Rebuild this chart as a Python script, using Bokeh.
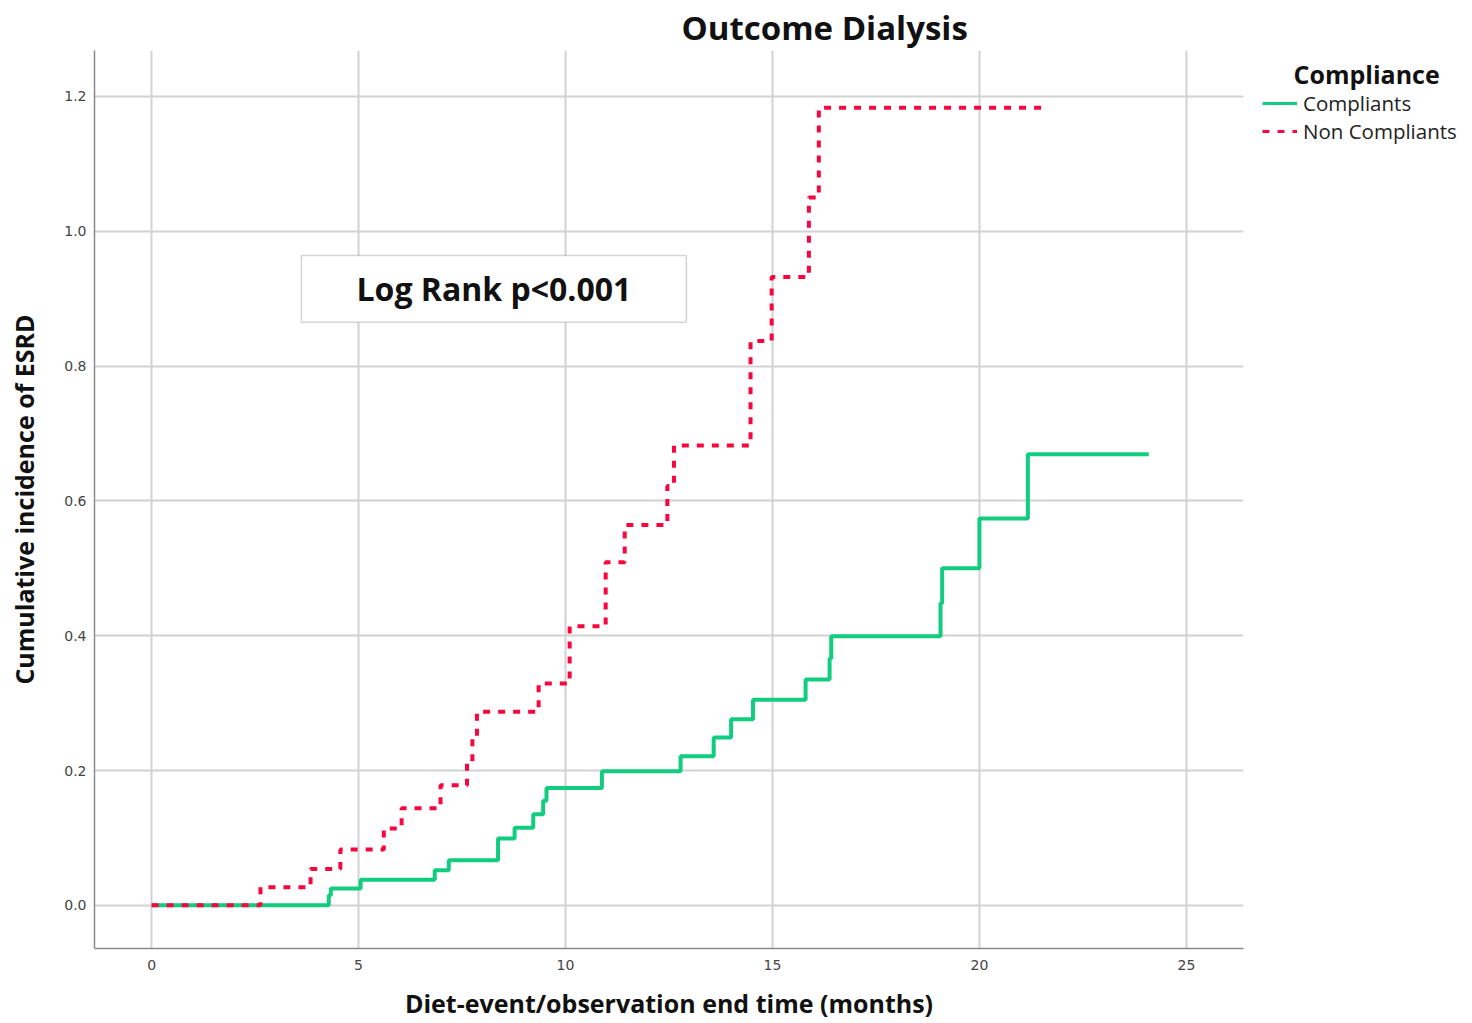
from bokeh.plotting import figure
from bokeh.layouts import row
from bokeh.models import Range1d, Legend, LegendItem, BoxAnnotation, Label, FixedTicker, CustomJSTickFormatter
from bokeh.embed import file_html
from bokeh.resources import INLINE

# ---- data ----
compliant_t = [0, 4.28, 4.33, 5.05, 6.84, 7.18, 8.37, 8.77, 9.22, 9.46, 9.54, 10.88, 12.78, 13.58,
               14.0, 14.53, 15.8, 16.38, 16.42, 19.06, 19.1, 20.0, 21.17, 24.09]
compliant_y = [0, 0.015, 0.025, 0.038, 0.052, 0.067, 0.099, 0.115, 0.135, 0.155, 0.174, 0.199, 0.221,
               0.249, 0.276, 0.305, 0.335, 0.366, 0.399, 0.448, 0.500, 0.574, 0.669, 0.669]

noncompliant_t = [0, 2.63, 3.84, 4.56, 5.61, 6.04, 6.98, 7.62, 7.75, 7.86, 9.35, 10.1, 10.97, 11.43,
                  12.46, 12.62, 14.47, 14.98, 15.88, 16.12, 21.52]
noncompliant_y = [0, 0.027, 0.054, 0.083, 0.114, 0.144, 0.178, 0.213, 0.25, 0.287, 0.329, 0.414,
                  0.509, 0.564, 0.622, 0.682, 0.837, 0.932, 1.050, 1.183, 1.183]

x_ticks = [0, 5, 10, 15, 20, 25]
y_ticks = [0.0, 0.2, 0.4, 0.6, 0.8, 1.0, 1.2]
series_names = ["Compliants", "Non Compliants"]
legend_title = "Compliance"
title_text = "Outcome Dialysis"
annotation_text = "Log Rank p<0.001"

GREEN = "#12cc80"
RED = "#f8073f"
FONT = "Open Sans"

p = figure(width=1262, height=1023, output_backend="svg", toolbar_location=None,
           x_range=Range1d(-1.38, 26.38), y_range=Range1d(-0.064, 1.268),
           min_border_left=94, min_border_right=19, min_border_top=50, min_border_bottom=75)

p.title.text = title_text
p.title.text_font = FONT
p.title.text_font_size = "33px"
p.title.text_font_style = "bold"
p.title.text_color = "#111111"
p.title.align = "left"
p.title.offset = 587
p.title.standoff = 0
p.title.vertical_align = "middle"

p.outline_line_color = None
p.background_fill_color = "white"

for ax in (p.xaxis, p.yaxis):
    ax.major_tick_out = 0
    ax.major_tick_in = 0
    ax.minor_tick_out = 0
    ax.minor_tick_in = 0
    ax.axis_line_color = "#8a8a8a"
    ax.axis_line_width = 1.5
    ax.major_label_text_font = "DejaVu Sans"
    ax.major_label_text_font_size = "14px"
    ax.major_label_text_color = "#444444"
    ax.axis_label_text_font = FONT
    ax.axis_label_text_font_style = "bold"
    ax.axis_label_text_font_size = "25px"
    ax.axis_label_text_color = "#111111"

p.xaxis.ticker = FixedTicker(ticks=x_ticks)
p.yaxis.ticker = FixedTicker(ticks=y_ticks)
p.yaxis.formatter = CustomJSTickFormatter(code="return tick.toFixed(1);")
p.xaxis.major_label_standoff = 11
p.yaxis.major_label_standoff = 8
p.xaxis.axis_label = "Diet-event/observation end time (months)"
p.yaxis.axis_label = "Cumulative incidence of ESRD"
p.xaxis.axis_label_standoff = 13
p.yaxis.axis_label_standoff = 20

p.xgrid.grid_line_color = "#d2d2d2"
p.ygrid.grid_line_color = "#d2d2d2"
p.xgrid.grid_line_width = 2
p.ygrid.grid_line_width = 2

g = p.step(compliant_t, compliant_y, mode="after", line_color=GREEN, line_width=4)
r = p.step(noncompliant_t, noncompliant_y, mode="after", line_color=RED, line_width=4,
           line_dash="7 8")

box = BoxAnnotation(left=3.62, right=12.92, bottom=0.865, top=0.964,
                    fill_color="white", fill_alpha=1.0, line_color="#777777", line_width=1.5)
p.add_layout(box)
p.add_layout(Label(x=8.27, y=0.9145, text=annotation_text, text_align="center", text_baseline="middle",
                   text_font=FONT, text_font_size="32px", text_font_style="bold", text_color="#111111"))

# ---- legend panel on the right (frame aligned with the main frame: 898 px tall) ----
p2 = figure(width=210, height=1023, output_backend="svg", toolbar_location=None,
            x_axis_location=None, y_axis_location=None,
            x_range=Range1d(0, 210), y_range=Range1d(0, 898),
            min_border_left=0, min_border_right=0, min_border_top=50, min_border_bottom=75)
p2.outline_line_color = None
p2.xgrid.visible = False
p2.ygrid.visible = False
# legend-key glyphs: their data lies outside the visible range, only the legend keys show
g2 = p2.step(x=[-20, -10], y=[-20, -20], line_color=GREEN, line_width=3)
r2 = p2.step(x=[-20, -10], y=[-20, -20], line_color=RED, line_width=3, line_dash="7 8")

p2.add_layout(Label(x=31, y=875, text=legend_title, text_align="left", text_baseline="middle",
                    text_font=FONT, text_font_size="25px", text_font_style="bold", text_color="#111111"))

legend = Legend(items=[LegendItem(label=series_names[0], renderers=[g2]),
                       LegendItem(label=series_names[1], renderers=[r2])],
                location=(0, 803))
legend.label_text_font = FONT
legend.label_text_font_size = "20.5px"
legend.label_text_color = "#222222"
legend.glyph_width = 35
legend.glyph_height = 22
legend.label_standoff = 6
legend.spacing = -6
legend.padding = 3
legend.margin = 0
legend.border_line_color = None
legend.background_fill_alpha = 0
p2.add_layout(legend)

layout = row(p, p2)
open("out.html", "w").write(file_html(layout, INLINE))
